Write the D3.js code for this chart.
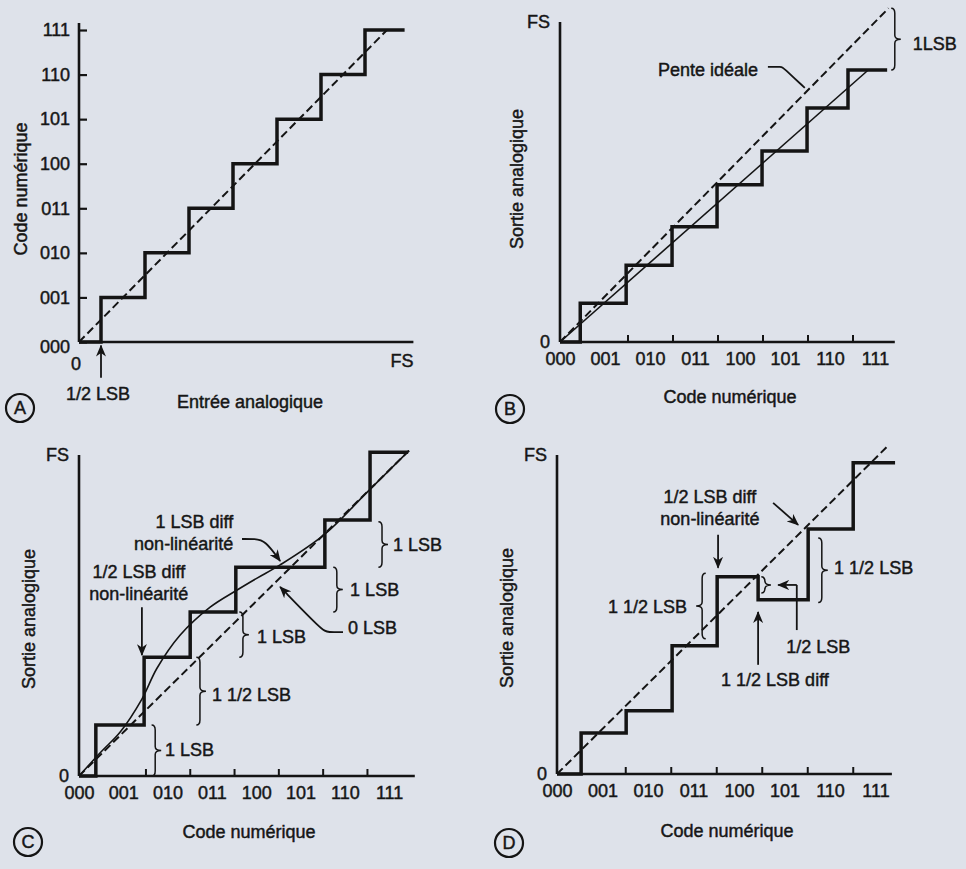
<!DOCTYPE html>
<html>
<head>
<meta charset="utf-8">
<script src="https://cdn.jsdelivr.net/npm/d3@7"></script>
<style>
  html, body { margin: 0; padding: 0; background: #dee2ea; }
  svg text { font-family: "Liberation Sans", Arial, sans-serif; fill: #161616; font-size: 18px;
             stroke: #161616; stroke-width: 0.45px; }
</style>
</head>
<body>
<script>
// codes shown on the digital axis
var codes = ["000", "001", "010", "011", "100", "101", "110", "111"];

// A : ideal converter (input -> code), treads start at these inputs
var aTreadStart = [0, 0.5, 1.5, 2.5, 3.5, 4.5, 5.5, 6.5];
var aLevels = [0, 1, 2, 3, 4, 5, 6, 7];
var aEnd = 7.4;
var aIdeal = [[0, 0], [7, 7]];

// B : gain error (code -> output)
var bTreadStart = [0, 0.45, 1.47, 2.49, 3.49, 4.49, 5.49, 6.4];
var bLevels = [0, 0.85, 1.68, 2.52, 3.44, 4.18, 5.12, 5.95];
var bEnd = 7.27;
var bIdeal = [[0, 0], [7.3, 7.3]];
var bActual = [[0, 0], [6.85, 5.95]];

// C : differential non linearity, missing code
var cTreadStart = [0, 0.38, 1.47, 2.51, 3.54, 5.55, 6.57];
var cLevels = [0, 1.16, 2.70, 3.73, 4.75, 5.82, 7.36];
var cEnd = 7.43;
var cIdeal = [[0, 0], [7.45, 7.4]];
var cCurve = [[0, 0], [0.5, 0.55], [0.93, 1.0], [1.42, 1.75], [1.76, 2.45], [2.28, 3.2],
              [2.96, 3.84], [3.57, 4.23], [4.02, 4.5], [4.54, 4.8], [5.55, 5.5],
              [6.5, 6.45], [7.45, 7.4]];

// D : non monotonic
var dTreadStart = [0, 0.53, 1.52, 2.53, 3.52, 4.42, 5.52, 6.51];
var dLevels = [0, 0.91, 1.40, 2.84, 4.37, 3.86, 5.43, 6.9];
var dEnd = 7.43;
var dIdeal = [[0, 0], [7.25, 7.25]];

var W = 966, H = 869;
var ink = "#141414";

var svg = d3.select("body").append("svg")
    .attr("width", W)
    .attr("height", H);

svg.append("rect").attr("width", W).attr("height", H).attr("fill", "#dee2ea");

svg.append("defs").append("marker")
    .attr("id", "arr")
    .attr("viewBox", "0 0 12 10")
    .attr("refX", 11).attr("refY", 5)
    .attr("markerWidth", 12).attr("markerHeight", 10)
    .attr("markerUnits", "userSpaceOnUse")
    .attr("orient", "auto")
  .append("path")
    .attr("d", "M0,0 L12,5 L0,10 L3.5,5 Z")
    .attr("fill", ink);

var lineGen = function(p) {
  return d3.line().x(function(d) { return p.x(d[0]); }).y(function(d) { return p.y(d[1]); });
};

function stairPoints(starts, levels, end) {
  var pts = [];
  starts.forEach(function(s, i) {
    var e = i < starts.length - 1 ? starts[i + 1] : end;
    pts.push([s, levels[i]]);
    pts.push([e, levels[i]]);
  });
  return pts;
}

function panel(cfg) {
  var g = svg.append("g");
  var x = d3.scaleLinear().domain([0, cfg.xMax]).range(cfg.xRange);
  var y = d3.scaleLinear().domain([0, cfg.yMax]).range(cfg.yRange);
  var p = {g: g, x: x, y: y};

  // axes
  g.append("line")
      .attr("x1", x(0)).attr("y1", y(0))
      .attr("x2", x(cfg.xMax)).attr("y2", y(0))
      .attr("stroke", ink).attr("stroke-width", 2.6);
  g.append("line")
      .attr("x1", x(0)).attr("y1", y(0))
      .attr("x2", x(0)).attr("y2", y(cfg.yMax))
      .attr("stroke", ink).attr("stroke-width", 2.6);

  // axis titles
  g.append("text")
      .attr("x", cfg.xTitle[0]).attr("y", cfg.xTitle[1])
      .attr("text-anchor", "middle")
      .text(cfg.xLabel);
  g.append("text")
      .attr("transform", "translate(" + cfg.yTitle[0] + "," + cfg.yTitle[1] + ") rotate(-90)")
      .attr("text-anchor", "middle")
      .text(cfg.yLabel);

  // panel letter
  g.append("circle")
      .attr("cx", cfg.tag[0]).attr("cy", cfg.tag[1]).attr("r", 14)
      .attr("fill", "none").attr("stroke", ink).attr("stroke-width", 2.2);
  g.append("text")
      .attr("x", cfg.tag[0]).attr("y", cfg.tag[1])
      .attr("dy", "0.36em")
      .attr("text-anchor", "middle")
      .style("font-size", "18px")
      .text(cfg.letter);
  return p;
}

function codeAxis(p) {
  // code labels under the axis
  var ax = p.g.append("g")
      .attr("transform", "translate(0," + p.y(0) + ")")
      .call(d3.axisBottom(p.x).tickValues(d3.range(8)).tickFormat(function(i) { return codes[i]; })
          .tickSize(0).tickPadding(10));
  ax.select(".domain").remove();
  ax.selectAll("text").style("font-size", "18px").attr("fill", ink).attr("font-family", null);
  // small marks at the half codes
  var tk = p.g.append("g")
      .attr("transform", "translate(0," + p.y(0) + ")")
      .call(d3.axisBottom(p.x).tickValues([1.5, 2.5, 3.5, 4.5, 5.5, 6.5]).tickFormat("")
          .tickSizeInner(-7).tickSizeOuter(0));
  tk.select(".domain").remove();
  tk.selectAll("line").attr("stroke", ink).attr("stroke-width", 2);
}

function outAxis(p, top) {
  var ax = p.g.append("g")
      .attr("transform", "translate(" + p.x(0) + ",0)")
      .call(d3.axisLeft(p.y).tickValues([0, top]).tickFormat(function(d) { return d === 0 ? "0" : "FS"; })
          .tickSize(0).tickPadding(10));
  ax.select(".domain").remove();
  ax.selectAll("text").style("font-size", "18px").attr("fill", ink).attr("font-family", null);
}

function drawLine(p, pts, opts) {
  var path = p.g.append("path")
      .datum(pts)
      .attr("d", lineGen(p).curve(opts.curve || d3.curveLinear))
      .attr("fill", "none")
      .attr("stroke", ink)
      .attr("stroke-width", opts.w)
      .attr("stroke-linejoin", "miter")
      .attr("stroke-linecap", opts.cap || "butt");
  if (opts.dash) path.attr("stroke-dasharray", opts.dash);
  return path;
}

function arrow(p, from, to) {
  p.g.append("line")
      .attr("x1", p.x(from[0])).attr("y1", p.y(from[1]))
      .attr("x2", p.x(to[0])).attr("y2", p.y(to[1]))
      .attr("stroke", ink).attr("stroke-width", 1.8)
      .attr("marker-end", "url(#arr)");
}

function leader(p, pts, withHead) {
  var path = p.g.append("path")
      .datum(pts)
      .attr("d", lineGen(p).curve(d3.curveBasis))
      .attr("fill", "none").attr("stroke", ink).attr("stroke-width", 1.8);
  if (withHead) path.attr("marker-end", "url(#arr)");
}

function brace(p, c, l1, l2, dir) {
  var x = p.x(c), ya = p.y(Math.max(l1, l2)), yb = p.y(Math.min(l1, l2));
  var ym = (ya + yb) / 2, w = 6 * dir;
  var d = "M" + (x - w * 0.6) + "," + ya +
          " Q" + x + "," + ya + " " + x + "," + (ya + 5) +
          " L" + x + "," + (ym - 4) +
          " Q" + x + "," + ym + " " + (x + w) + "," + ym +
          " Q" + x + "," + ym + " " + x + "," + (ym + 4) +
          " L" + x + "," + (yb - 5) +
          " Q" + x + "," + yb + " " + (x - w * 0.6) + "," + yb;
  p.g.append("path").attr("d", d)
      .attr("fill", "none").attr("stroke", ink).attr("stroke-width", 1.5);
}

function note(p, c, l, str, anchor) {
  p.g.append("text")
      .attr("x", p.x(c)).attr("y", p.y(l))
      .attr("text-anchor", anchor || "start")
      .text(str);
}

// ---------------- A ----------------
var A = panel({xMax: 7.6, xRange: [79, 413.4], yMax: 7.16, yRange: [342, 342 - 7.16 * 44.57],
               xLabel: "Entrée analogique", yLabel: "Code numérique",
               xTitle: [250, 408], yTitle: [27, 189], tag: [20, 408], letter: "A"});
var ay = A.g.append("g")
    .attr("transform", "translate(" + A.x(0) + ",0)")
    .call(d3.axisLeft(A.y).tickValues(d3.range(8)).tickFormat(function(i) { return codes[i]; })
        .tickSizeInner(-8).tickSizeOuter(0).tickPadding(9));
ay.select(".domain").remove();
ay.selectAll("line").attr("stroke", ink).attr("stroke-width", 2.2);
ay.selectAll("text").style("font-size", "18px").attr("fill", ink).attr("font-family", null);
ay.selectAll("text").filter(function(d) { return d === 0; }).attr("dy", "0.6em");

drawLine(A, aIdeal, {w: 2, dash: "8,4"});
drawLine(A, stairPoints(aTreadStart, aLevels, aEnd), {w: 3.5});
note(A, -0.07, -0.63, "0", "middle");
note(A, 7.34, -0.56, "FS", "middle");
arrow(A, [0.5, -0.8], [0.5, -0.08]);
note(A, 0.43, -1.3, "1/2 LSB", "middle");

// ---------------- B ----------------
var B = panel({xMax: 7.44, xRange: [560, 560 + 7.44 * 45], yMax: 7, yRange: [342, 22],
               xLabel: "Code numérique", yLabel: "Sortie analogique",
               xTitle: [730, 403], yTitle: [523, 179], tag: [510, 409], letter: "B"});
codeAxis(B);
outAxis(B, 7);
drawLine(B, bIdeal, {w: 2, dash: "8,4"});
drawLine(B, bActual, {w: 1.6});
drawLine(B, stairPoints(bTreadStart, bLevels, bEnd), {w: 3.5});
note(B, 4.4, 5.82, "Pente idéale", "end");
leader(B, [[4.62, 6.02], [4.93, 6.02], [4.96, 6.0], [5.44, 5.56]], false);
brace(B, 7.44, 5.95, 7.3, 1);
note(B, 7.84, 6.39, "1LSB", "start");

// ---------------- C ----------------
var C = panel({xMax: 7.58, xRange: [79, 79 + 7.58 * 44.3], yMax: 7.3, yRange: [776, 455],
               xLabel: "Code numérique", yLabel: "Sortie analogique",
               xTitle: [249, 838], yTitle: [35, 619], tag: [28, 842], letter: "C"});
codeAxis(C);
outAxis(C, 7.3);
drawLine(C, cIdeal, {w: 2, dash: "8,4"});
drawLine(C, cCurve, {w: 1.6, curve: d3.curveCatmullRom});
drawLine(C, stairPoints(cTreadStart, cLevels, cEnd), {w: 3.5});

note(C, 3.48, 5.64, "1 LSB diff", "end");
note(C, 3.48, 5.14, "non-linéarité", "end");
leader(C, [[3.68, 5.39], [3.97, 5.39], [4.2, 5.36], [4.54, 4.89]], true);
note(C, 1.35, 4.5, "1/2 LSB diff", "middle");
note(C, 1.35, 4.0, "non-linéarité", "middle");
arrow(C, [1.42, 3.84], [1.42, 2.75]);

brace(C, 1.72, 0, 1.16, 1);
note(C, 1.94, 0.45, "1 LSB");
brace(C, 2.73, 1.16, 2.70, 1);
note(C, 3.0, 1.71, "1 1/2 LSB");
brace(C, 3.70, 2.70, 3.73, 1);
note(C, 4.02, 3.02, "1 LSB");
brace(C, 5.82, 3.73, 4.75, 1);
note(C, 6.12, 4.09, "1 LSB");
brace(C, 6.84, 4.75, 5.78, 1);
note(C, 7.09, 5.12, "1 LSB");

note(C, 6.07, 3.23, "0 LSB");
leader(C, [[5.96, 3.27], [5.62, 3.27], [5.5, 3.3], [4.54, 4.3]], true);

// ---------------- D ----------------
var D = panel({xMax: 7.36, xRange: [557, 557 + 7.36 * 45.5], yMax: 7.07, yRange: [774, 455],
               xLabel: "Code numérique", yLabel: "Sortie analogique",
               xTitle: [727, 837], yTitle: [513, 618], tag: [509, 843], letter: "D"});
codeAxis(D);
outAxis(D, 7.07);
drawLine(D, dIdeal, {w: 2, dash: "8,4"});
drawLine(D, stairPoints(dTreadStart, dLevels, dEnd), {w: 3.5});

note(D, 3.36, 6.01, "1/2 LSB diff", "middle");
note(D, 3.36, 5.52, "non-linéarité", "middle");
arrow(D, [4.75, 6.01], [5.30, 5.52]);
arrow(D, [3.54, 5.30], [3.54, 4.57]);
brace(D, 3.19, 3.0, 4.45, -1);
note(D, 2.86, 3.57, "1 1/2 LSB", "end");
brace(D, 4.57, 4.01, 4.37, 1);
D.g.append("line")
    .attr("x1", D.x(5.27)).attr("y1", D.y(3.19))
    .attr("x2", D.x(5.27)).attr("y2", D.y(4.19))
    .attr("stroke", ink).attr("stroke-width", 1.8);
arrow(D, [5.27, 4.19], [4.86, 4.19]);
note(D, 5.74, 2.68, "1/2 LSB", "middle");
arrow(D, [4.42, 2.42], [4.42, 3.59]);
note(D, 4.79, 1.95, "1 1/2 LSB diff", "middle");
brace(D, 5.82, 3.8, 5.23, 1);
note(D, 6.09, 4.43, "1 1/2 LSB", "start");
</script>
</body>
</html>
